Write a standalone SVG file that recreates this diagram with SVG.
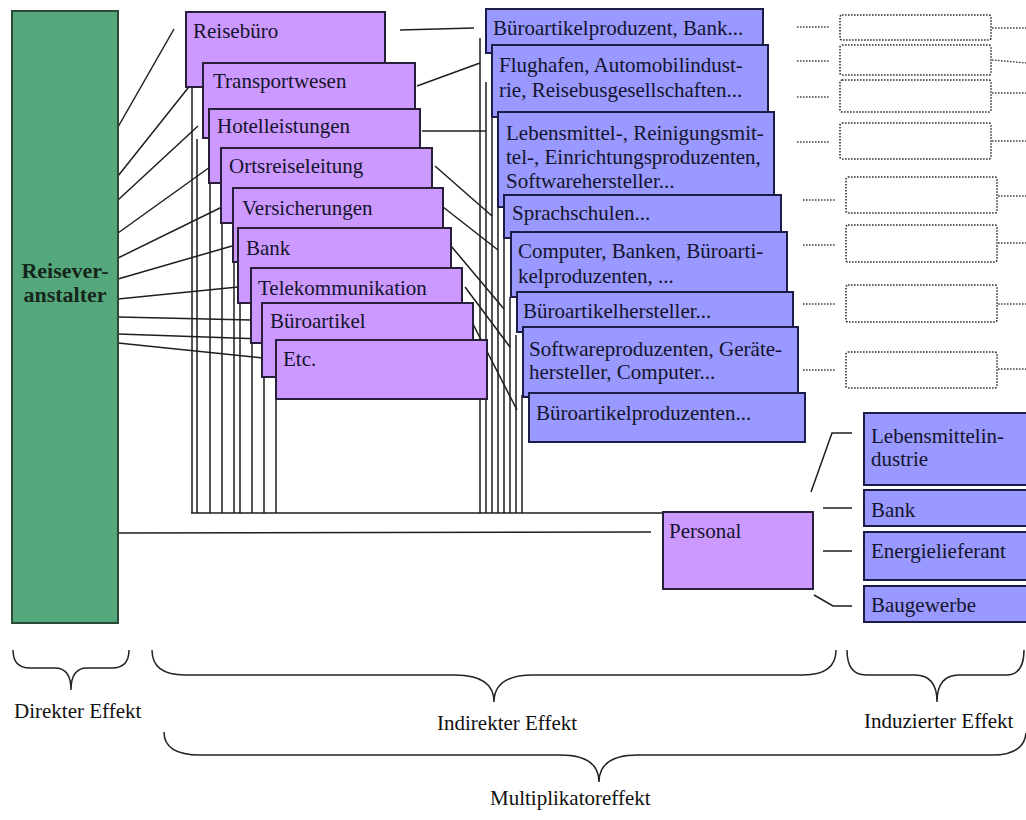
<svg xmlns="http://www.w3.org/2000/svg" width="1026" height="820" viewBox="0 0 1026 820">
  <style>
    .t { font-family: "Liberation Serif", serif; font-size: 21px; fill: #14142e; }
    .lbl { font-family: "Liberation Serif", serif; font-size: 21px; fill: #111; }
    .head { font-family: "Liberation Serif", serif; font-size: 22px; font-weight: bold; fill: #16261c; }
    .green { fill: #55a87b; stroke: #2b4a38; stroke-width: 2; }
    .purple { fill: #cc99ff; stroke: #2a1f3a; stroke-width: 2; }
    .blue { fill: #9999ff; stroke: #1c1c48; stroke-width: 2; }
    .dotbox { fill: none; stroke: #333; stroke-width: 1.6; stroke-dasharray: 1.6 1.4; }
    .dot { fill: none; stroke: #444; stroke-width: 1.4; stroke-dasharray: 1.6 1.4; }
    .ln { fill: none; stroke: #1e1e1e; stroke-width: 1.5; }
    .brace { fill: none; stroke: #222; stroke-width: 1.5; }
  </style>

  <rect width="1026" height="820" fill="#ffffff"/>

  <!-- connectors -->
  <g id="connectors">
    <!-- tour operator fan to service providers -->
    <line class="ln" x1="118" y1="127" x2="174" y2="29"/>
    <line class="ln" x1="118" y1="176" x2="192" y2="83"/>
    <line class="ln" x1="118" y1="200" x2="198" y2="126"/>
    <line class="ln" x1="118" y1="233" x2="210" y2="167"/>
    <line class="ln" x1="118" y1="258" x2="222" y2="207"/>
    <line class="ln" x1="118" y1="279" x2="232" y2="246"/>
    <line class="ln" x1="118" y1="299" x2="238" y2="287"/>
    <line class="ln" x1="118" y1="317" x2="251" y2="320"/>
    <line class="ln" x1="118" y1="334" x2="263" y2="339"/>
    <line class="ln" x1="118" y1="343" x2="263" y2="358"/>
    <!-- tour operator to personnel -->
    <line class="ln" x1="118" y1="533" x2="651" y2="532"/>

    <!-- drop lines below service boxes -->
    <line class="ln" x1="192" y1="87" x2="192" y2="513"/>
    <line class="ln" x1="197" y1="139" x2="197" y2="513"/>
    <line class="ln" x1="210" y1="183" x2="210" y2="513"/>
    <line class="ln" x1="222" y1="223" x2="222" y2="513"/>
    <line class="ln" x1="234" y1="262" x2="234" y2="513"/>
    <line class="ln" x1="240" y1="303" x2="240" y2="513"/>
    <line class="ln" x1="252" y1="343" x2="252" y2="513"/>
    <line class="ln" x1="264" y1="377" x2="264" y2="513"/>
    <line class="ln" x1="276" y1="399" x2="276" y2="513"/>

    <!-- drop lines beside supplier boxes -->
    <line class="ln" x1="480" y1="38" x2="480" y2="513"/>
    <line class="ln" x1="486" y1="82" x2="486" y2="513"/>
    <line class="ln" x1="492" y1="117" x2="492" y2="513"/>
    <line class="ln" x1="498" y1="207" x2="498" y2="513"/>
    <line class="ln" x1="504" y1="238" x2="504" y2="513"/>
    <line class="ln" x1="510" y1="297" x2="510" y2="513"/>
    <line class="ln" x1="516" y1="335" x2="516" y2="513"/>
    <line class="ln" x1="522" y1="395" x2="522" y2="513"/>

    <!-- common base line to personnel -->
    <line class="ln" x1="191" y1="513" x2="663" y2="513"/>

    <!-- service providers to suppliers -->
    <line class="ln" x1="400" y1="30" x2="474" y2="28"/>
    <line class="ln" x1="417" y1="86" x2="480" y2="63"/>
    <line class="ln" x1="422" y1="131" x2="486" y2="131"/>
    <line class="ln" x1="435" y1="166" x2="492" y2="216"/>
    <line class="ln" x1="443" y1="207" x2="498" y2="250"/>
    <line class="ln" x1="451" y1="246" x2="504" y2="309"/>
    <line class="ln" x1="465" y1="287" x2="510" y2="347"/>
    <line class="ln" x1="473" y1="324" x2="517" y2="410"/>

    <!-- personnel to induced sectors -->
    <polyline class="ln" points="811,492 832,433 852,433"/>
    <line class="ln" x1="823" y1="508" x2="852" y2="508"/>
    <line class="ln" x1="823" y1="551" x2="852" y2="551"/>
    <polyline class="ln" points="814,595 833,606 852,606"/>

    <!-- dotted continuation lines -->
    <line class="dot" x1="797" y1="27" x2="829" y2="27"/>
    <line class="dot" x1="797" y1="61" x2="829" y2="61"/>
    <line class="dot" x1="797" y1="97" x2="829" y2="97"/>
    <line class="dot" x1="797" y1="142" x2="829" y2="142"/>
    <line class="dot" x1="803" y1="200" x2="835" y2="200"/>
    <line class="dot" x1="803" y1="245" x2="835" y2="245"/>
    <line class="dot" x1="803" y1="304" x2="835" y2="304"/>
    <line class="dot" x1="803" y1="370" x2="835" y2="370"/>

    <line class="dot" x1="992" y1="28" x2="1026" y2="28"/>
    <line class="dot" x1="992" y1="60" x2="1026" y2="63"/>
    <line class="dot" x1="992" y1="93" x2="1026" y2="93"/>
    <line class="dot" x1="992" y1="141" x2="1026" y2="141"/>
    <line class="dot" x1="998" y1="196" x2="1026" y2="196"/>
    <line class="dot" x1="998" y1="243" x2="1026" y2="243"/>
    <line class="dot" x1="998" y1="304" x2="1026" y2="304"/>
    <line class="dot" x1="998" y1="369" x2="1026" y2="369"/>
  </g>

  <!-- direct effect: tour operator -->
  <g id="n-reiseveranstalter">
    <rect class="green" x="12" y="11" width="106" height="612"/>
    <text class="head" x="65" y="278" text-anchor="middle">Reisever-</text>
    <text class="head" x="65" y="302" text-anchor="middle">anstalter</text>
  </g>

  <!-- service providers -->
  <g id="n-reisebuero"><rect class="purple" x="186" y="12" width="199" height="75"/><text class="t" x="193" y="38">Reisebüro</text></g>
  <g id="n-transportwesen"><rect class="purple" x="203" y="63" width="212" height="75"/><text class="t" x="213" y="88">Transportwesen</text></g>
  <g id="n-hotelleistungen"><rect class="purple" x="209" y="109" width="211" height="74"/><text class="t" x="217" y="133">Hotelleistungen</text></g>
  <g id="n-ortsreiseleitung"><rect class="purple" x="221" y="148" width="211" height="75"/><text class="t" x="229" y="173">Ortsreiseleitung</text></g>
  <g id="n-versicherungen"><rect class="purple" x="233" y="188" width="210" height="74"/><text class="t" x="242" y="215">Versicherungen</text></g>
  <g id="n-bank"><rect class="purple" x="238" y="228" width="213" height="75"/><text class="t" x="246" y="255">Bank</text></g>
  <g id="n-telekommunikation"><rect class="purple" x="251" y="268" width="211" height="75"/><text class="t" x="258" y="295">Telekommunikation</text></g>
  <g id="n-bueroartikel"><rect class="purple" x="262" y="303" width="211" height="74"/><text class="t" x="270" y="328">Büroartikel</text></g>
  <g id="n-etc"><rect class="purple" x="276" y="340" width="211" height="59"/><text class="t" x="283" y="366">Etc.</text></g>

  <!-- suppliers -->
  <g id="n-lieferant-1"><rect class="blue" x="486" y="9" width="277" height="44"/><text class="t" x="493" y="35">Büroartikelproduzent, Bank...</text></g>
  <g id="n-lieferant-2"><rect class="blue" x="492" y="45" width="276" height="72"/><text class="t" x="499" y="72">Flughafen, Automobilindust-</text><text class="t" x="499" y="97">rie, Reisebusgesellschaften...</text></g>
  <g id="n-lieferant-3"><rect class="blue" x="498" y="112" width="276" height="95"/><text class="t" x="506" y="140">Lebensmittel-, Reinigungsmit-</text><text class="t" x="506" y="164">tel-, Einrichtungsproduzenten,</text><text class="t" x="506" y="188">Softwarehersteller...</text></g>
  <g id="n-lieferant-4"><rect class="blue" x="504" y="195" width="277" height="43"/><text class="t" x="512" y="220">Sprachschulen...</text></g>
  <g id="n-lieferant-5"><rect class="blue" x="511" y="232" width="276" height="65"/><text class="t" x="518" y="258">Computer, Banken, Büroarti-</text><text class="t" x="518" y="283">kelproduzenten, ...</text></g>
  <g id="n-lieferant-6"><rect class="blue" x="517" y="292" width="276" height="40"/><text class="t" x="523" y="318">Büroartikelhersteller...</text></g>
  <g id="n-lieferant-7"><rect class="blue" x="523" y="327" width="275" height="70"/><text class="t" x="529" y="356">Softwareproduzenten, Geräte-</text><text class="t" x="529" y="379">hersteller, Computer...</text></g>
  <g id="n-lieferant-8"><rect class="blue" x="529" y="393" width="276" height="49"/><text class="t" x="536" y="420">Büroartikelproduzenten...</text></g>

  <!-- further supplier tiers (empty) -->
  <g id="n-stufe-1"><rect class="dotbox" x="840" y="15" width="151" height="25" rx="2"/></g>
  <g id="n-stufe-2"><rect class="dotbox" x="840" y="45" width="151" height="30" rx="2"/></g>
  <g id="n-stufe-3"><rect class="dotbox" x="840" y="80" width="151" height="32" rx="2"/></g>
  <g id="n-stufe-4"><rect class="dotbox" x="840" y="123" width="151" height="36" rx="2"/></g>
  <g id="n-stufe-5"><rect class="dotbox" x="846" y="177" width="151" height="36" rx="2"/></g>
  <g id="n-stufe-6"><rect class="dotbox" x="846" y="225" width="151" height="37" rx="2"/></g>
  <g id="n-stufe-7"><rect class="dotbox" x="846" y="285" width="151" height="37" rx="2"/></g>
  <g id="n-stufe-8"><rect class="dotbox" x="846" y="352" width="151" height="36" rx="2"/></g>

  <!-- personnel -->
  <g id="n-personal"><rect class="purple" x="663" y="512" width="150" height="77"/><text class="t" x="669" y="538">Personal</text></g>

  <!-- induced sectors -->
  <g id="n-lebensmittelindustrie"><rect class="blue" x="864" y="413" width="170" height="72"/><text class="t" x="871" y="443">Lebensmittelin-</text><text class="t" x="871" y="466">dustrie</text></g>
  <g id="n-bank-induziert"><rect class="blue" x="864" y="490" width="170" height="36"/><text class="t" x="871" y="517">Bank</text></g>
  <g id="n-energielieferant"><rect class="blue" x="864" y="532" width="170" height="48"/><text class="t" x="871" y="558">Energielieferant</text></g>
  <g id="n-baugewerbe"><rect class="blue" x="864" y="586" width="170" height="36"/><text class="t" x="871" y="612">Baugewerbe</text></g>

  <!-- effect braces -->
  <g id="braces">
    <path class="brace" d="M13,650 Q13,668 30,668 L55,668 Q71,668 71,690 Q71,668 87,668 L112,668 Q129,668 129,650"/>
    <path class="brace" d="M152,650 Q152,675 185,675 L455,675 Q494,675 494,702 Q494,675 533,675 L803,675 Q836,675 836,650"/>
    <path class="brace" d="M847,650 Q847,675 866,675 L915,675 Q937,675 937,702 Q937,675 959,675 L1006,675 Q1024,675 1024,650"/>
    <path class="brace" d="M164,732 Q164,755 200,755 L560,755 Q599,755 599,782 Q599,755 638,755 L992,755 Q1024,755 1026,733"/>
  </g>

  <g id="labels">
    <text class="lbl" x="14" y="718">Direkter Effekt</text>
    <text class="lbl" x="437" y="730">Indirekter Effekt</text>
    <text class="lbl" x="864" y="728">Induzierter Effekt</text>
    <text class="lbl" x="490" y="805">Multiplikatoreffekt</text>
  </g>
</svg>
